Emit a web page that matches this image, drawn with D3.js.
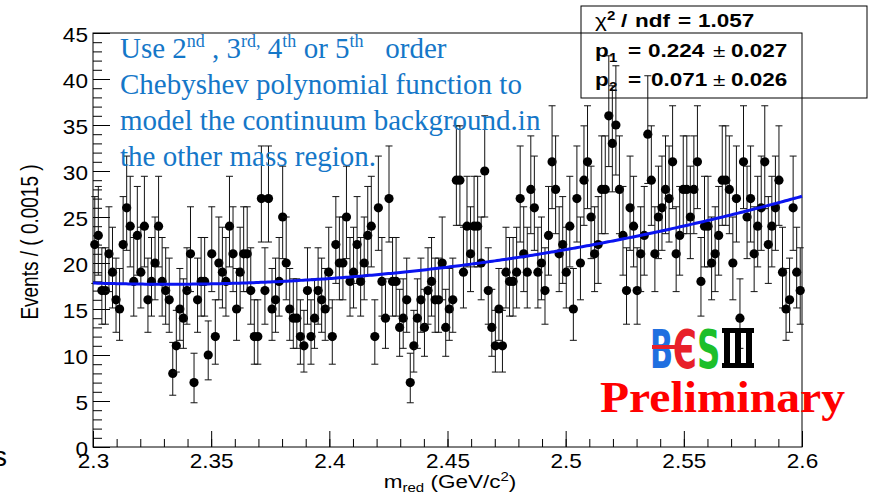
<!DOCTYPE html>
<html>
<head>
<meta charset="utf-8">
<script src="https://cdn.jsdelivr.net/npm/d3@7"></script>
<style>
  body { margin: 0; background: #fff; }
  svg { display: block; }
</style>
</head>
<body>
<svg id="chart" width="875" height="495"></svg>
<script>
// ---- histogram binning ----
const massLow = 2.3;
const massHigh = 2.6;
const binWidth = 0.0015;

// events per bin, 200 bins from 2.3 to 2.6 GeV/c^2
const counts = [
  22, 23, 17, 17, 21, 19, 16, 15, 22, 26, 24, 18, 23, 19, 24, 16, 18, 20, 24, 18,
  17, 16, 8, 11, 15, 14, 17, 21, 7, 16, 18, 18, 10, 21, 12, 20, 19, 18, 24, 21,
  15, 19, 21, 21, 17, 12, 12, 27, 17, 27, 15, 16, 18, 25, 20, 15, 14, 14, 12, 11,
  17, 12, 14, 17, 16, 15, 19, 12, 22, 20, 20, 25, 18, 19, 22, 18, 20, 23, 24, 12,
  26, 18, 14, 27, 18, 18, 13, 14, 16, 7, 11, 14, 16, 13, 17, 18, 16, 16, 20, 13,
  15, 16, 29, 29, 19, 24, 21, 24, 24, 20, 30, 17, 13, 11, 15, 11, 19, 18, 18, 19,
  27, 21, 19, 28, 26, 19, 20, 17, 23, 31, 28, 21, 22, 19, 24, 15, 27, 20, 29, 31,
  25, 21, 22, 28, 28, 36, 33, 35, 28, 23, 17, 26, 24, 17, 21, 23, 34, 29, 21, 25,
  26, 28, 27, 31, 21, 23, 28, 28, 25, 28, 31, 18, 24, 24, 20, 21, 23, 29, 29, 28,
  20, 27, 14, 31, 25, 27, 21, 24, 26, 31, 22, 24, 26, 29, 19, 15, 16, 26, 19, 17
];

// ---- axis ticks ----
const xTickValues = [2.3, 2.35, 2.4, 2.45, 2.5, 2.55, 2.6];
const xTickLabels = ["2.3", "2.35", "2.4", "2.45", "2.5", "2.55", "2.6"];
const yTickValues = [0, 5, 10, 15, 20, 25, 30, 35, 40, 45];
const yTickLabels = ["0", "5", "10", "15", "20", "25", "30", "35", "40", "45"];

// ---- Chebyshev background fit results ----
const chi2ndf = "1.057";
const p1 = 0.224, p1Err = 0.027;
const p2 = 0.071, p2Err = 0.026;

// ---- annotation text ----
const noteLines = [
  [["Use 2"], ["nd", "sup"], [" , 3"], ["rd,", "sup"], [" 4"], ["th", "sup"], [" or 5"], ["th", "sup"], ["\u00a0\u00a0 order"]],
  [["Chebyshev polynomial function to"]],
  [["model the continuum background.in"]],
  [["the other mass region."]]
];

// ---------------------------------------------------------------
const svg = d3.select("#chart");
const frame = { left: 93, right: 802, top: 33, bottom: 447 };
const SX = 1.25;                          // horizontal stretch of the plot text
const TICK_SX = 1.13;
const rootFont = "'Liberation Sans', Arial, Helvetica, sans-serif";

const x = d3.scaleLinear().domain([massLow, massHigh]).range([frame.left, frame.right]);
const y = d3.scaleLinear().domain([0, 45]).range([frame.bottom, frame.top]);

svg.append("rect").attr("width", 875).attr("height", 495).attr("fill", "#fff");

// ---- stats box (under the data, as in the fit frame) ----
const stats = svg.append("g");
stats.append("rect")
  .attr("x", 581).attr("y", 6).attr("width", 286).attr("height", 92)
  .attr("fill", "#fff").attr("stroke", "#000").attr("stroke-width", 1);

function stretched(g, px, py, anchor, size, weight) {
  return g.append("text")
    .attr("transform", `translate(${px},${py}) scale(${SX},1)`)
    .attr("text-anchor", anchor)
    .attr("font-family", rootFont)
    .attr("font-size", size)
    .attr("font-weight", weight || "normal")
    .attr("fill", "#000");
}

// pieces of one stats line, each placed at its own column
const statsLeft = 595;
function statsLine(py, pieces) {
  const t = stretched(stats, statsLeft, py, "start", 18, "bold");
  pieces.forEach(p => {
    const ts = t.append("tspan").text(p.s);
    if (p.col !== undefined) ts.attr("x", (p.col - statsLeft) / SX);
    if (p.size) ts.attr("font-size", p.size);
    if (p.dy) ts.attr("dy", p.dy);
    if (p.weight) ts.attr("font-weight", p.weight);
  });
}
statsLine(27, [
  { s: "\u03c7", col: 595, weight: "normal" },
  { s: "2", col: 607, size: 12, dy: -7 },
  { s: "/", col: 621, dy: 7 },
  { s: "ndf", col: 635 },
  { s: "=", col: 678 },
  { s: chi2ndf, col: 698 }
]);
[[57, "1", p1, p1Err, 648], [86, "2", p2, p2Err, 651]].forEach(([py, idx, v, e, vx]) => {
  statsLine(py, [
    { s: "p", col: 595 },
    { s: idx, col: 609, size: 12, dy: 5 },
    { s: "=", col: 628, dy: -5 },
    { s: v.toFixed(3), col: vx },
    { s: "\u00b1", col: 713, weight: "normal" },
    { s: e.toFixed(3), col: 731 }
  ]);
});

// ---- frame ----
svg.append("rect")
  .attr("x", frame.left).attr("y", frame.top)
  .attr("width", frame.right - frame.left).attr("height", frame.bottom - frame.top)
  .attr("fill", "none").attr("stroke", "#000").attr("stroke-width", 1);

// ---- axes with ticks pointing into the frame ----
const xMinor = d3.range(0, 31).map(i => massLow + i * 0.01);
svg.append("g").attr("transform", `translate(0,${frame.bottom})`)
  .call(d3.axisBottom(x).tickValues(xMinor).tickSize(-8).tickFormat(""))
  .call(g => g.select(".domain").remove());
const xAxis = svg.append("g").attr("transform", `translate(0,${frame.bottom})`)
  .call(d3.axisBottom(x).tickValues(xTickValues).tickSize(-16).tickPadding(0)
    .tickFormat((d, i) => xTickLabels[i]));
xAxis.select(".domain").remove();
xAxis.selectAll("text")
  .attr("y", null).attr("dy", null)
  .attr("transform", `translate(0,21) scale(${TICK_SX},1)`)
  .attr("font-family", rootFont).attr("font-size", 20).attr("fill", "#000");

const yMinor = d3.range(0, 46);
svg.append("g").attr("transform", `translate(${frame.left},0)`)
  .call(d3.axisLeft(y).tickValues(yMinor).tickSize(-9).tickFormat(""))
  .call(g => g.select(".domain").remove());
const yAxis = svg.append("g").attr("transform", `translate(${frame.left},0)`)
  .call(d3.axisLeft(y).tickValues(yTickValues).tickSize(-17).tickPadding(0)
    .tickFormat((d, i) => yTickLabels[i]));
yAxis.select(".domain").remove();
yAxis.selectAll("text")
  .attr("x", null).attr("dy", null)
  .attr("transform", `translate(-5,8) scale(${TICK_SX},1)`)
  .attr("font-family", rootFont).attr("font-size", 20).attr("fill", "#000");
svg.selectAll(".tick line").attr("stroke", "#000");

// ---- axis titles ----
const xt = stretched(svg, 450, 488, "middle", 18);
xt.append("tspan").text("m");
xt.append("tspan").attr("font-size", 12).attr("dy", 4).text("red");
xt.append("tspan").attr("dy", -4).text(" (GeV/c");
xt.append("tspan").attr("font-size", 12).attr("dy", -7).text("2");
xt.append("tspan").attr("dy", 7).text(")");

svg.append("text")
  .attr("transform", `translate(38,242) rotate(-90) scale(1,${SX})`)
  .attr("text-anchor", "middle")
  .attr("font-family", rootFont).attr("font-size", 19).attr("fill", "#000")
  .text("Events / ( 0.0015 )");

// ---- data points with Poisson error bars ----
const binCenter = i => massLow + (i + 0.5) * binWidth;
const poissonLo = n => n - Math.sqrt(n + 0.25) + 0.5;
const poissonHi = n => n + Math.sqrt(n + 0.25) + 0.5;

const pts = svg.append("g");
const bars = pts.selectAll("g.bin").data(counts).join("g").attr("class", "bin");
bars.append("line")
  .attr("x1", (d, i) => x(binCenter(i))).attr("x2", (d, i) => x(binCenter(i)))
  .attr("y1", d => y(poissonLo(d))).attr("y2", d => y(poissonHi(d)))
  .attr("stroke", "#111").attr("stroke-width", 1);
[poissonLo, poissonHi].forEach(f => {
  bars.append("line")
    .attr("x1", (d, i) => x(binCenter(i)) - 3.5).attr("x2", (d, i) => x(binCenter(i)) + 3.5)
    .attr("y1", d => y(f(d))).attr("y2", d => y(f(d)))
    .attr("stroke", "#111").attr("stroke-width", 1);
});
bars.append("circle")
  .attr("cx", (d, i) => x(binCenter(i))).attr("cy", d => y(d))
  .attr("r", 4.6).attr("fill", "#000");

// ---- fitted Chebyshev background: 1 + p1*T1 + p2*T2, normalised to the data ----
const cheb = m => {
  const t = (2 * m - massLow - massHigh) / (massHigh - massLow);
  return 1 + p1 * t + p2 * (2 * t * t - 1);
};
const norm = d3.mean(counts) / (1 - p2 / 3);
const curveX = d3.range(0, 301).map(i => massLow + i * (massHigh - massLow) / 300);
svg.append("path")
  .datum(curveX)
  .attr("d", d3.line().x(m => x(m)).y(m => y(norm * cheb(m))))
  .attr("fill", "none").attr("stroke", "#0a14f0").attr("stroke-width", 3);

// ---- annotation ----
const note = svg.append("text")
  .attr("font-family", "'Liberation Serif', 'Times New Roman', serif")
  .attr("font-size", 29).attr("fill", "#1577c8");
noteLines.forEach((parts, li) => {
  parts.forEach(([s, kind], pi) => {
    const ts = note.append("tspan").text(s);
    if (pi === 0) ts.attr("x", 120).attr("y", 58 + li * 36);
    if (kind === "sup") ts.attr("font-size", 18).attr("dy", -11);
    else if (pi > 0 && parts[pi - 1][1] === "sup") ts.attr("dy", 11);
  });
});

// ---- experiment logo ----
const logo = svg.append("g").attr("font-family", "'DejaVu Sans', sans-serif").attr("font-weight", "bold");
logo.append("text").attr("transform", "translate(650,368) scale(0.56,1)")
  .attr("font-size", 54).attr("fill", "#1f6fe0").text("B");
logo.append("text").attr("transform", "translate(673,368) scale(0.6,1)")
  .attr("font-size", 54).attr("fill", "#e8202a").text("\u0404");
logo.append("rect").attr("x", 652).attr("y", 345).attr("width", 36).attr("height", 4).attr("fill", "#e8202a");
logo.append("text").attr("transform", "translate(697,368) scale(0.6,1)")
  .attr("font-size", 54).attr("fill", "#1cbf2a").text("S");
const roman = logo.append("g").attr("fill", "#000");
roman.append("rect").attr("x", 722).attr("y", 328).attr("width", 32).attr("height", 5);
roman.append("rect").attr("x", 722).attr("y", 363).attr("width", 32).attr("height", 5);
[724, 735, 746].forEach(px => roman.append("rect").attr("x", px).attr("y", 330).attr("width", 6).attr("height", 36));

svg.append("text")
  .attr("x", 600).attr("y", 412)
  .attr("font-family", "'Liberation Serif', 'Times New Roman', serif")
  .attr("font-weight", "bold").attr("font-size", 44).attr("fill", "#ff0000")
  .attr("textLength", 245).attr("lengthAdjust", "spacingAndGlyphs")
  .text("Preliminary");

// slide text running off the left edge
svg.append("text").attr("x", -7).attr("y", 466)
  .attr("font-family", "'Liberation Sans', Arial, sans-serif").attr("font-size", 28).attr("fill", "#000")
  .text("s");
</script>
</body>
</html>
